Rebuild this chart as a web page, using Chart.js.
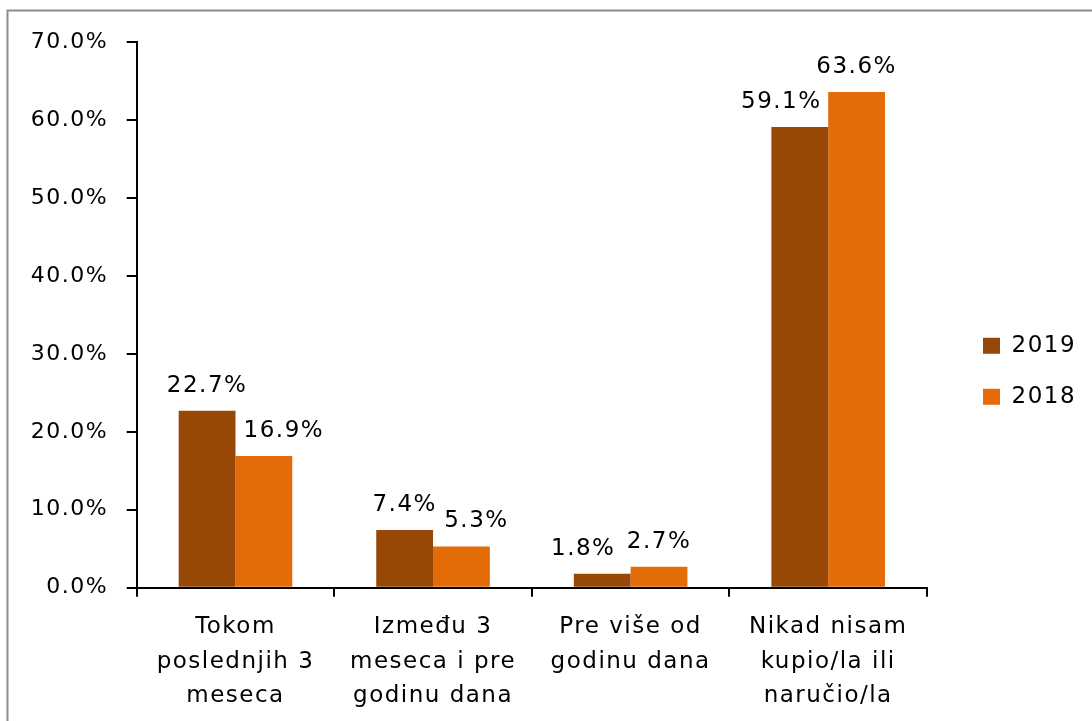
<!DOCTYPE html>
<html>
<head>
<meta charset="utf-8">
<script src="https://cdn.jsdelivr.net/npm/chart.js@4.4.1/dist/chart.umd.min.js"></script>
<style>
  html, body { margin: 0; padding: 0; background: #ffffff; }
  #wrap { width: 1092px; height: 721px; }
</style>
</head>
<body>
<div id="wrap"><canvas id="c" width="1092" height="721"></canvas></div>
<script>
const categories = [
  ["Tokom", "poslednjih 3", "meseca"],
  ["Između 3", "meseca i pre", "godinu dana"],
  ["Pre više od", "godinu dana"],
  ["Nikad nisam", "kupio/la ili", "naručio/la"]
];
const seriesNames = ["2019", "2018"];
const values2019 = [22.7, 7.4, 1.8, 59.1];
const values2018 = [16.9, 5.3, 2.7, 63.6];
const seriesColors = ["#974706", "#E36C09"];
const yTicks = [0, 10, 20, 30, 40, 50, 60, 70];

const FONT = "'DejaVu Sans', Verdana, sans-serif";

const spacingPlugin = {
  id: 'spacing',
  beforeUpdate(chart) { chart.ctx.letterSpacing = '1.5px'; },
  beforeDraw(chart) { chart.ctx.letterSpacing = '1.5px'; }
};

const framePlugin = {
  id: 'frame',
  beforeDraw(chart) {
    const ctx = chart.ctx;
    ctx.save();
    ctx.fillStyle = '#ffffff';
    ctx.fillRect(0, 0, chart.width, chart.height);
    ctx.strokeStyle = '#8c8c8c';
    ctx.lineWidth = 2;
    ctx.beginPath();
    ctx.moveTo(7.5, chart.height);
    ctx.lineTo(7.5, 10.5);
    ctx.lineTo(chart.width, 10.5);
    ctx.stroke();
    ctx.restore();
  }
};

const legendShift = {
  id: 'legendShift',
  afterLayout(chart) {
    const L = chart.legend;
    if (!L) return;
    const pad = L.options.labels.padding;
    const dx = 983 - pad - L.left;
    L.left += dx; L.right += dx;
    const dy = -10.3;
    L.top += dy; L.bottom += dy;
  }
};

// label nudges (style only) so that neighbouring labels do not collide, as in the original
const valueLabels = {
  id: 'valueLabels',
  afterDatasetsDraw(chart, args, opts) {
    const ctx = chart.ctx;
    const nudges = opts.nudges || [];
    ctx.save();
    ctx.font = "23px " + FONT;
    ctx.fillStyle = '#000000';
    ctx.textAlign = 'center';
    ctx.textBaseline = 'alphabetic';
    chart.data.datasets.forEach((ds, i) => {
      const meta = chart.getDatasetMeta(i);
      meta.data.forEach((bar, j) => {
        const dx = (nudges[i] && nudges[i][j]) || 0;
        ctx.fillText(ds.data[j].toFixed(1) + '%', bar.x + dx, bar.y - 19);
      });
    });
    ctx.restore();
  }
};

new Chart(document.getElementById('c'), {
  type: 'bar',
  data: {
    labels: categories,
    datasets: [
      { label: seriesNames[0], data: values2019, backgroundColor: seriesColors[0], borderWidth: 0 },
      { label: seriesNames[1], data: values2018, backgroundColor: seriesColors[1], borderWidth: 0 }
    ]
  },
  options: {
    responsive: false,
    animation: false,
    devicePixelRatio: 1,
    categoryPercentage: 0.575,
    barPercentage: 1.0,
    layout: { padding: { top: 42, left: 0, right: 34, bottom: 0 } },
    plugins: {
      legend: {
        position: 'right',
        labels: {
          boxWidth: 17,
          boxHeight: 16,
          padding: 28,
          color: '#000000',
          font: { family: FONT, size: 23 }
        }
      },
      tooltip: { enabled: false },
      valueLabels: {
        nudges: [[0, 0, -19, -18.5], [20, 15, 0, 0]]
      }
    },
    scales: {
      x: {
        grid: {
          display: true,
          drawOnChartArea: false,
          drawTicks: true,
          tickLength: 9,
          color: '#000000',
          lineWidth: 2,
          offset: true
        },
        border: { display: true, color: '#000000', width: 2 },
        ticks: {
          color: '#000000',
          padding: 13.5,
          maxRotation: 0,
          autoSkip: false,
          font: { family: FONT, size: 23, lineHeight: 1.5 }
        },
        afterFit(scale) { scale.height = 133.3; }
      },
      y: {
        min: 0,
        max: 70,
        afterBuildTicks(scale) { scale.ticks = yTicks.map(v => ({ value: v })); },
        grid: {
          display: true,
          drawOnChartArea: false,
          drawTicks: true,
          tickLength: 10,
          color: '#000000',
          lineWidth: 2
        },
        border: { display: true, color: '#000000', width: 2 },
        ticks: {
          color: '#000000',
          padding: 18.5,
          font: { family: FONT, size: 22 },
          callback: (v) => Number(v).toFixed(1) + '%'
        },
        afterFit(scale) { scale.width = 136.7; }
      }
    }
  },
  plugins: [spacingPlugin, framePlugin, legendShift, valueLabels]
});
</script>
</body>
</html>
